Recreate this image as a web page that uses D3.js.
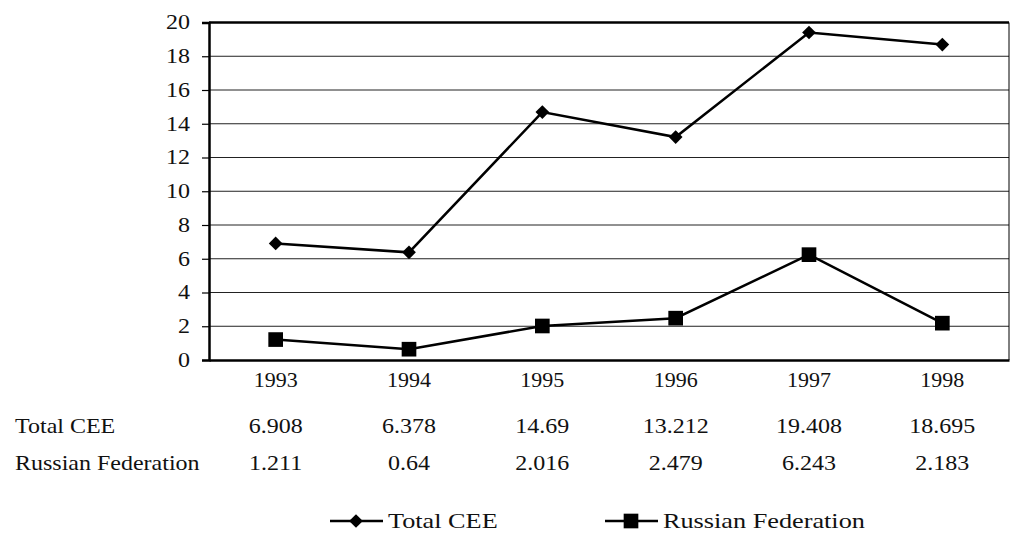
<!DOCTYPE html>
<html>
<head>
<meta charset="utf-8">
<script src="https://cdn.jsdelivr.net/npm/d3@7"></script>
<style>
  body { margin: 0; background: #fff; }
  text { font-family: "Liberation Serif", "DejaVu Serif", serif; fill: #111; }
</style>
</head>
<body>
<script>
var years = ['1993', '1994', '1995', '1996', '1997', '1998'];
var totalCEE = [6.908, 6.378, 14.69, 13.212, 19.408, 18.695];
var russia = [1.211, 0.64, 2.016, 2.479, 6.243, 2.183];
var totalLabels = ['6.908', '6.378', '14.69', '13.212', '19.408', '18.695'];
var russiaLabels = ['1.211', '0.64', '2.016', '2.479', '6.243', '2.183'];
var yTicks = [0, 2, 4, 6, 8, 10, 12, 14, 16, 18, 20];

var width = 1013, height = 537;
var plotLeft = 209, plotRight = 1009, plotTop = 22.5, plotBottom = 360;

var svg = d3.select('body').append('svg')
  .attr('width', width)
  .attr('height', height);

var x = d3.scaleBand().domain(years).range([plotLeft, plotRight]);
var y = d3.scaleLinear().domain([0, 20]).range([plotBottom, plotTop]);

function cx(d, i) { return x(years[i]) + x.bandwidth() / 2; }

// the scanned text is wider than the font, stretch it sideways round its anchor
function stretch(sel, k) {
  sel.each(function () {
    var ax = +d3.select(this).attr('x') || 0;
    d3.select(this).attr('transform',
      'translate(' + ax + ',0) scale(' + k + ',1) translate(' + (-ax) + ',0)');
  });
}

// grid lines
svg.append('g').selectAll('line')
  .data(yTicks.slice(1, -1))
  .enter().append('line')
  .attr('x1', plotLeft).attr('x2', plotRight)
  .attr('y1', function (d) { return y(d); })
  .attr('y2', function (d) { return y(d); })
  .attr('stroke', '#222')
  .attr('stroke-width', 1);

// frame
svg.append('line').attr('x1', plotLeft).attr('x2', plotRight)
  .attr('y1', plotTop).attr('y2', plotTop)
  .attr('stroke', '#000').attr('stroke-width', 2.5);
svg.append('line').attr('x1', plotRight).attr('x2', plotRight)
  .attr('y1', plotTop).attr('y2', plotBottom)
  .attr('stroke', '#000').attr('stroke-width', 1);

// y axis
var yAxis = svg.append('g')
  .attr('transform', 'translate(' + plotLeft + ',0)')
  .call(d3.axisLeft(y).tickValues(yTicks).tickSize(7).tickPadding(12));
yAxis.attr('font-family', null).attr('font-size', null);
yAxis.select('.domain').attr('stroke', '#000').attr('stroke-width', 2.5);
yAxis.selectAll('.tick line').attr('stroke', '#000').attr('stroke-width', 1.2);
yAxis.selectAll('.tick text')
  .style('font-size', '20px').attr('fill', '#111')
  .call(stretch, 1.2);

// x axis
var xAxis = svg.append('g')
  .attr('transform', 'translate(0,' + plotBottom + ')')
  .call(d3.axisBottom(x).tickSize(0).tickPadding(13));
xAxis.attr('font-family', null).attr('font-size', null);
xAxis.select('.domain').attr('stroke', '#000').attr('stroke-width', 2.5);
xAxis.selectAll('.tick text')
  .style('font-size', '20px').attr('fill', '#111')
  .call(stretch, 1.1);

// lines
var line = d3.line()
  .x(cx)
  .y(function (d) { return y(d); });

svg.append('path').datum(totalCEE)
  .attr('d', line).attr('fill', 'none')
  .attr('stroke', '#000').attr('stroke-width', 2.5);
svg.append('path').datum(russia)
  .attr('d', line).attr('fill', 'none')
  .attr('stroke', '#000').attr('stroke-width', 2.5);

var diamond = d3.symbol().type(d3.symbolDiamond2).size(120);
var square = d3.symbol().type(d3.symbolSquare).size(215);

svg.append('g').selectAll('path')
  .data(totalCEE).enter().append('path')
  .attr('d', diamond)
  .attr('transform', function (d, i) { return 'translate(' + cx(d, i) + ',' + y(d) + ')'; })
  .attr('fill', '#000');

svg.append('g').selectAll('path')
  .data(russia).enter().append('path')
  .attr('d', square)
  .attr('transform', function (d, i) { return 'translate(' + cx(d, i) + ',' + y(d) + ')'; })
  .attr('fill', '#000');

// data table
var rows = [
  { name: 'Total CEE', labels: totalLabels, y: 433 },
  { name: 'Russian Federation', labels: russiaLabels, y: 470 }
];
rows.forEach(function (r) {
  svg.append('text').attr('x', 15).attr('y', r.y)
    .style('font-size', '20px').text(r.name)
    .call(stretch, 1.2);
  svg.append('g').selectAll('text')
    .data(r.labels).enter().append('text')
    .attr('x', cx)
    .attr('y', r.y)
    .attr('text-anchor', 'middle')
    .style('font-size', '20px')
    .text(function (d) { return d; })
    .call(stretch, 1.2);
});

// legend
var legend = [
  { name: 'Total CEE', sym: diamond, x0: 330 },
  { name: 'Russian Federation', sym: square, x0: 605 }
];
var ly = 521;
legend.forEach(function (l) {
  var g = svg.append('g');
  g.append('line').attr('x1', l.x0).attr('x2', l.x0 + 53)
    .attr('y1', ly).attr('y2', ly)
    .attr('stroke', '#000').attr('stroke-width', 2.5);
  g.append('path').attr('d', l.sym)
    .attr('transform', 'translate(' + (l.x0 + 26) + ',' + ly + ')')
    .attr('fill', '#000');
  g.append('text').attr('x', l.x0 + 58).attr('y', ly + 7)
    .style('font-size', '21px').text(l.name)
    .call(stretch, 1.25);
});
</script>
</body>
</html>
